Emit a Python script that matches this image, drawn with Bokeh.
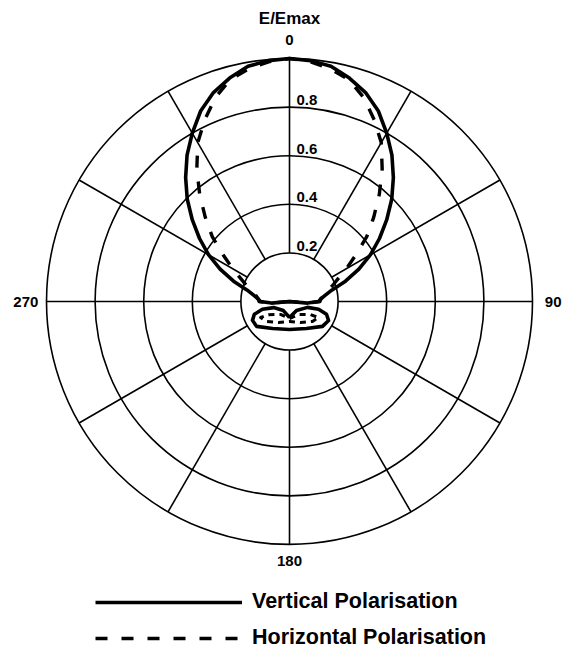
import numpy as np
from bokeh.plotting import figure
from bokeh.models import Range1d, Legend, LegendItem
from bokeh.core.properties import value
from bokeh.embed import file_html
from bokeh.resources import INLINE

# ---------------- data ----------------
# bearing in degrees, clockwise from 0 (top); r = E/Emax
lobe_angles = [-100, -95, -90, -85, -80, -75, -70, -65, -60, -55, -50, -45, -40, -35, -30, -25,
               -20, -15, -10, -5, 0, 5, 10, 15, 20, 25, 30, 35, 40, 45, 50, 55, 60, 65, 70, 75,
               80, 85, 90, 95, 100]
vertical_main = [0.0, 0.075, 0.12, 0.13, 0.15, 0.18, 0.245, 0.315, 0.385, 0.452, 0.522, 0.595,
                 0.665, 0.735, 0.800, 0.865, 0.915, 0.952, 0.983, 0.995, 1.00, 0.995, 0.983, 0.952,
                 0.915, 0.865, 0.800, 0.735, 0.665, 0.595, 0.522, 0.452, 0.385, 0.315, 0.245, 0.18,
                 0.15, 0.13, 0.12, 0.075, 0.0]
horizontal_main = [0.0, 0.075, 0.125, 0.13, 0.14, 0.157, 0.187, 0.22, 0.27, 0.333, 0.415, 0.49,
                   0.575, 0.665, 0.755, 0.825, 0.893, 0.945, 0.972, 0.99, 1.00, 0.99, 0.972, 0.945,
                   0.893, 0.825, 0.755, 0.665, 0.575, 0.49, 0.415, 0.333, 0.27, 0.22, 0.187, 0.157,
                   0.14, 0.13, 0.125, 0.075, 0.0]

# back lobes (closed outlines)
vertical_back_angles = [180, 142, 108, 105, 109, 116, 127, 148, 180, 212, 233, 243, 250, 254, 249, 214, 180]
vertical_back_r = [0.066, 0.047, 0.078, 0.124, 0.161, 0.179, 0.170, 0.131, 0.115, 0.131, 0.170,
                   0.171, 0.154, 0.116, 0.070, 0.045, 0.066]
horizontal_back_angles = [180, 145, 122, 119, 131, 152, 180, 208, 229, 241, 238, 215, 180]
horizontal_back_r = [0.070, 0.065, 0.102, 0.136, 0.125, 0.098, 0.082, 0.098, 0.125, 0.136, 0.102,
                     0.065, 0.070]

ring_values = [0.2, 0.4, 0.6, 0.8, 1.0]
ring_labels = ["0.2", "0.4", "0.6", "0.8"]
spoke_angles = [0, 30, 60, 90, 120, 150, 180, 210, 240, 270, 300, 330]
bearing_labels = ["0", "90", "180", "270"]
bearing_label_angles = [0, 90, 180, 270]
series_names = ["Vertical Polarisation", "Horizontal Polarisation"]
title_text = "E/Emax"


def to_xy(angles, radii):
    a = np.radians(np.asarray(angles, dtype=float))
    r = np.asarray(radii, dtype=float)
    return r * np.sin(a), r * np.cos(a)


# ---------------- figure ----------------
W, H = 569, 652
PX = 243.0          # pixels per unit of E/Emax
CX, CY = 289, 301   # centre of the polar grid in frame pixels (from top-left)

p = figure(width=W, height=H, output_backend="svg", toolbar_location=None,
           x_range=Range1d(-CX / PX, (W - CX) / PX),
           y_range=Range1d(-(H - CY) / PX, CY / PX),
           x_axis_location=None, y_axis_location=None, min_border=0)
p.grid.visible = False
p.outline_line_color = None
p.background_fill_color = "white"
p.border_fill_color = "white"

FONT = value("Liberation Sans")

# rings
p.circle(x=[0] * len(ring_values), y=[0] * len(ring_values), radius=ring_values,
         fill_color=None, line_color="black", line_width=1.6)

# spokes from the 0.2 ring to the rim
sx0, sy0 = to_xy(spoke_angles, [ring_values[0]] * len(spoke_angles))
sx1, sy1 = to_xy(spoke_angles, [ring_values[-1]] * len(spoke_angles))
p.segment(x0=sx0, y0=sy0, x1=sx1, y1=sy1, line_color="black", line_width=1.6)

# patterns
vx, vy = to_xy(lobe_angles, vertical_main)
hx, hy = to_xy(lobe_angles, horizontal_main)
r_v = p.line(vx, vy, line_color="black", line_width=3.6, line_join="round")
r_h = p.line(hx, hy, line_color="black", line_width=3.4, line_dash="12 14", line_join="round")

vbx, vby = to_xy(vertical_back_angles, vertical_back_r)
hbx, hby = to_xy(horizontal_back_angles, horizontal_back_r)
p.line(vbx, vby, line_color="black", line_width=3.6, line_join="round")
p.line(hbx, hby, line_color="black", line_width=3.0, line_dash="6 5", line_join="round")

# ring value labels (baseline 7 px above each ring)
p.text(x=[0] * len(ring_labels), y=[v + 7 / PX for v in ring_values[:4]], text=ring_labels,
       x_offset=7, text_font=FONT, text_font_style="bold",
       text_font_size="15px", text_align="left", text_baseline="alphabetic", text_color="black")

# bearing labels
bx, by = to_xy(bearing_label_angles, [1.075, 1.085, 1.068, 1.085])
p.text(x=bx, y=by, text=bearing_labels, text_font=FONT, text_font_style="bold",
       text_font_size="15px", text_align="center", text_baseline="middle", text_color="black")

# axis title
p.text(x=[0], y=[1.165], text=[title_text], text_font=FONT, text_font_style="bold",
       text_font_size="17px", text_align="center", text_baseline="middle", text_color="black")

legend = Legend(items=[LegendItem(label=series_names[0], renderers=[r_v]),
                       LegendItem(label=series_names[1], renderers=[r_h])],
                location=(95, 2), orientation="vertical",
                glyph_width=147, glyph_height=24, label_height=24, label_standoff=10,
                spacing=11, padding=0, margin=0,
                border_line_color=None, background_fill_alpha=0,
                label_text_font="Liberation Sans", label_text_font_style="bold",
                label_text_font_size="21.5px", label_text_color="black")
p.add_layout(legend)

open("out.html", "w").write(file_html(p, INLINE))
